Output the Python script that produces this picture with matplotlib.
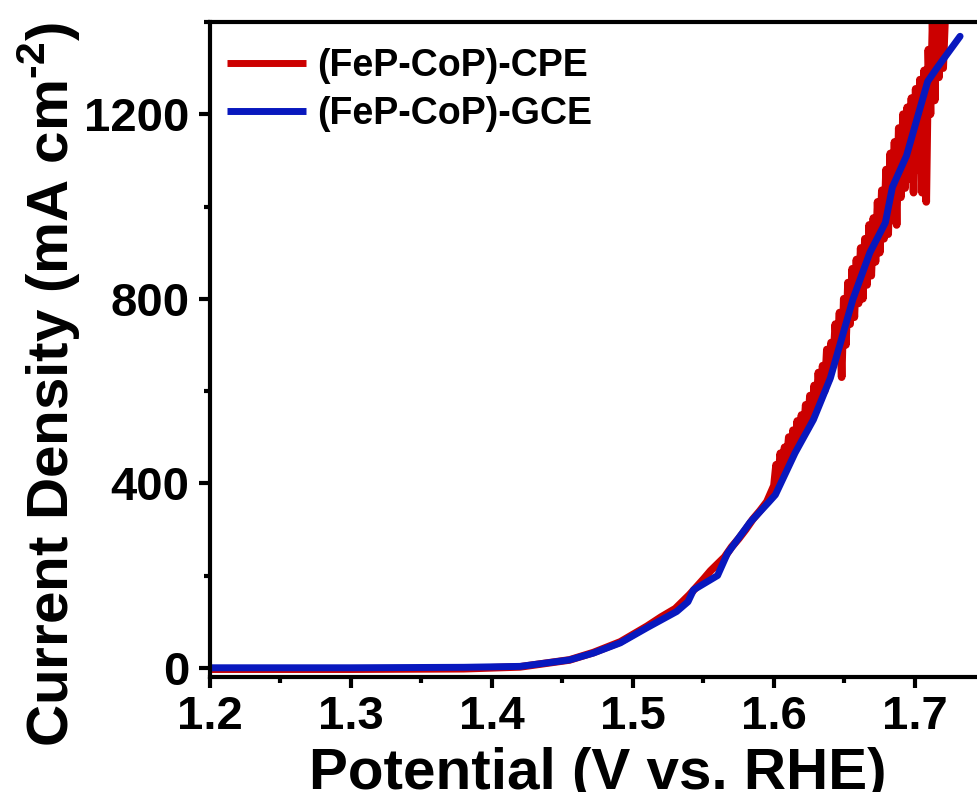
"""
LSV polarisation curves of (FeP-CoP) on CPE vs GCE, recreated from the figure.
Writes out.png (977 x 792 px).
"""

import matplotlib
matplotlib.use("Agg")
import matplotlib.pyplot as plt
from matplotlib.ticker import MultipleLocator

plt.rcParams["font.family"] = ["Liberation Sans", "DejaVu Sans"]
plt.rcParams["font.weight"] = "bold"
plt.rcParams["mathtext.fontset"] = "custom"
plt.rcParams["mathtext.rm"] = "Liberation Sans:bold"
plt.rcParams["mathtext.bf"] = "Liberation Sans:bold"

# --- data (V vs RHE, mA cm-2) ---
gce_v = [1.200, 1.300, 1.380, 1.420, 1.455, 1.472, 1.491, 1.510, 1.531, 1.539,
         1.543, 1.560, 1.567, 1.583, 1.596, 1.601, 1.615, 1.628, 1.640, 1.656,
         1.668, 1.679, 1.684, 1.694, 1.709, 1.716, 1.732]
gce_j = [0, 0, 1, 3, 17, 32, 54, 87, 122, 143,
         169, 200, 248, 315, 358, 375, 466, 538, 628, 799,
         900, 965, 1042, 1110, 1271, 1302, 1369]

# smooth onset part of the CPE trace
cpe_v_low = [1.200, 1.300, 1.380, 1.420, 1.455, 1.472, 1.491, 1.510, 1.520,
             1.530, 1.540, 1.545, 1.550, 1.555, 1.560, 1.565, 1.570, 1.575,
             1.580, 1.585, 1.590, 1.595]
cpe_j_low = [-3, -3, -2, 2, 17, 33, 56, 90, 110,
             128, 158, 175, 192, 210, 225, 240, 262, 280,
             300, 322, 340, 360]

# noisy high-current part of the CPE trace
cpe_v_high = [1.6000, 1.6015, 1.6030, 1.6045, 1.6060, 1.6075, 1.6090, 1.6105,
              1.6120, 1.6135, 1.6150, 1.6165, 1.6180, 1.6195, 1.6210, 1.6225,
              1.6240, 1.6255, 1.6270, 1.6285, 1.6300, 1.6315, 1.6330, 1.6345,
              1.6360, 1.6375, 1.6390, 1.6405, 1.6420, 1.6435, 1.6450, 1.6465,
              1.6480, 1.6495, 1.6510, 1.6525, 1.6540, 1.6555, 1.6570, 1.6585,
              1.6600, 1.6615, 1.6630, 1.6645, 1.6660, 1.6675, 1.6690, 1.6705,
              1.6720, 1.6735, 1.6750, 1.6765, 1.6780, 1.6795, 1.6810, 1.6825,
              1.6840, 1.6855, 1.6870, 1.6885, 1.6900, 1.6915, 1.6930, 1.6945,
              1.6960, 1.6975, 1.6990, 1.7005, 1.7020, 1.7035, 1.7050, 1.7065,
              1.7080, 1.7095, 1.7110, 1.7125, 1.7140, 1.7155, 1.7170, 1.7185,
              1.7200, 1.7215]
cpe_j_high = [395, 440, 410, 465, 425, 478, 445, 500,
              455, 515, 470, 535, 490, 548, 505, 570,
              520, 590, 540, 612, 560, 640, 580, 655,
              600, 690, 625, 705, 660, 745, 680, 770,
              630, 800, 700, 835, 745, 865, 760, 885,
              790, 910, 800, 930, 830, 960, 850, 975,
              880, 1010, 900, 1035, 930, 1080, 940, 1115,
              970, 1140, 960, 1170, 1020, 1200, 1040, 1215,
              1060, 1235, 1030, 1255, 1080, 1275, 1030, 1295,
              1010, 1340, 1200, 1400, 1230, 1420, 1280, 1420,
              1300, 1420]

RED = "#CC0000"
BLUE = "#0818BE"


def main():
    fig = plt.figure(figsize=(9.77, 7.92), dpi=100)
    ax = fig.add_axes([210 / 977, 115 / 792, 767 / 977, 655 / 792])

    ax.plot(cpe_v_low + cpe_v_high, cpe_j_low + cpe_j_high, color=RED, lw=5.5,
            solid_capstyle="round", solid_joinstyle="round",
            label="(FeP-CoP)-CPE")
    ax.plot(gce_v, gce_j, color=BLUE, lw=5, solid_capstyle="round",
            solid_joinstyle="round", label="(FeP-CoP)-GCE")

    ax.set_xlim(1.2, 1.744)
    ax.set_ylim(-20, 1400)
    ax.xaxis.set_major_locator(MultipleLocator(0.1))
    ax.xaxis.set_minor_locator(MultipleLocator(0.05))
    ax.yaxis.set_major_locator(MultipleLocator(400))
    ax.yaxis.set_minor_locator(MultipleLocator(200))

    for side in ("left", "bottom", "top"):
        ax.spines[side].set_linewidth(3)
    ax.spines["right"].set_visible(False)
    ax.tick_params(which="major", direction="out", length=8, width=3,
                   labelsize=34, pad=5)
    ax.tick_params(axis="y", which="major", pad=7)
    ax.tick_params(which="minor", direction="out", length=4, width=3)
    ax.tick_params(top=False, right=False)
    for lab in ax.get_xticklabels() + ax.get_yticklabels():
        lab.set_fontweight("bold")

    ax.set_xlabel("Potential (V vs. RHE)", fontsize=42, fontweight="bold",
                  va="baseline")
    ax.xaxis.set_label_coords(0.506, -0.171)
    ax.set_ylabel(r"Current Density (mA cm$^{\text{-2}}$)", fontsize=42,
                  fontweight="bold", va="baseline")
    ax.yaxis.set_label_coords(-0.184, 0.446)

    leg = ax.legend(loc="upper left", bbox_to_anchor=(0.022, 0.96),
                    frameon=False, fontsize=27, handlelength=2.1,
                    handletextpad=0.3, labelspacing=0.32, borderpad=0,
                    borderaxespad=0)
    for t in leg.get_texts():
        t.set_fontweight("bold")
    for h in leg.get_lines():
        h.set_linewidth(5)
        h.set_solid_capstyle("butt")

    fig.savefig("out.png", dpi=100)
    plt.close(fig)


if __name__ == "__main__":
    main()
